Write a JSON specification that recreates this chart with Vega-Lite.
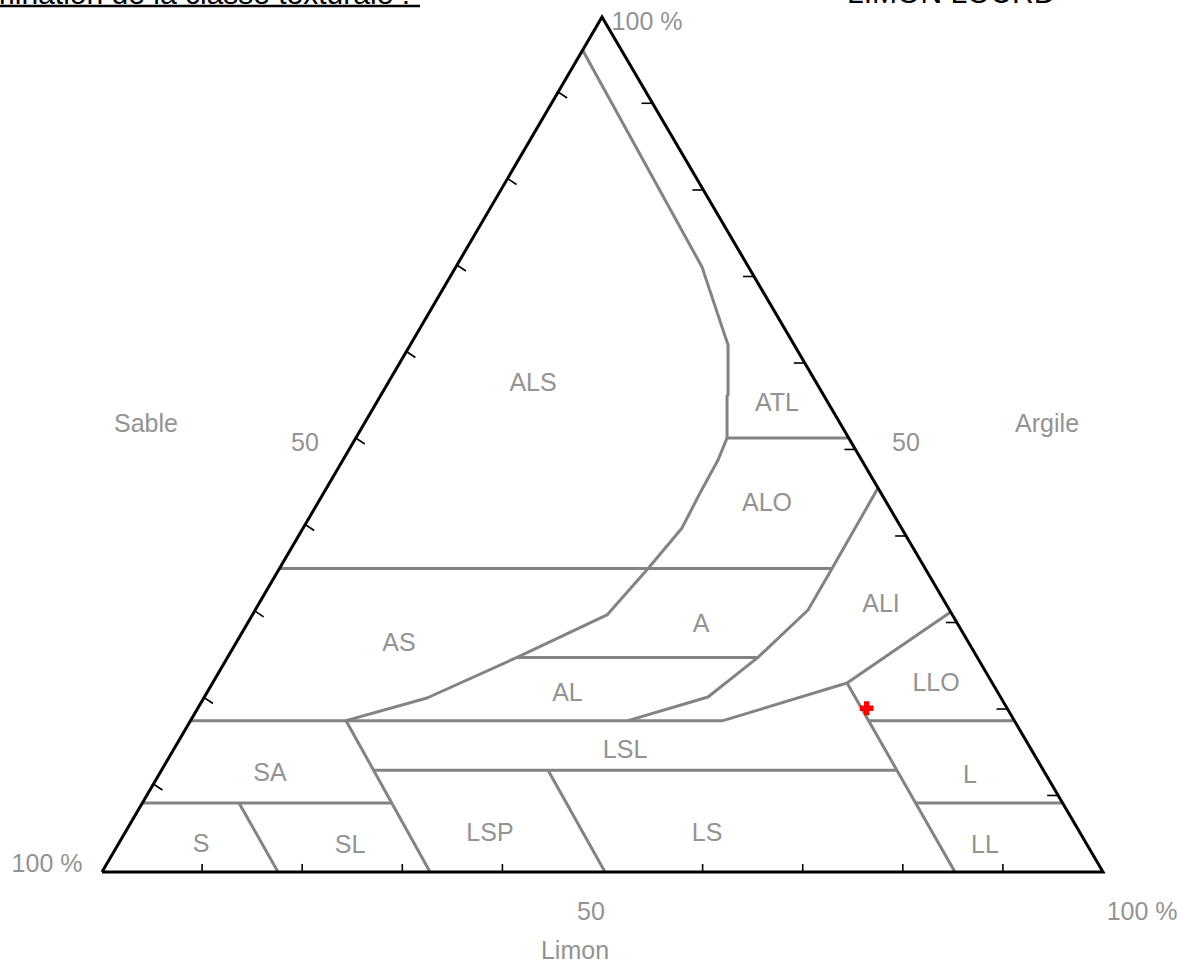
{
  "$schema": "https://vega.github.io/schema/vega-lite/v6.json",
  "width": 1178,
  "height": 965,
  "autosize": {"type": "none"},
  "padding": 0,
  "background": "white",
  "config": {"view": {"stroke": null}},
  "datasets": {
    "lines": [
      {"seg": "c1", "o": 1, "pos": 47.95, "argile": 96.26},
      {"seg": "c1", "o": 2, "pos": 59.94, "argile": 70.76},
      {"seg": "c1", "o": 3, "pos": 62.54, "argile": 61.64},
      {"seg": "c1", "o": 4, "pos": 62.54, "argile": 55.79},
      {"seg": "c1", "o": 5, "pos": 62.44, "argile": 55.67},
      {"seg": "c1", "o": 6, "pos": 62.44, "argile": 50.76},
      {"seg": "c1", "o": 7, "pos": 61.54, "argile": 48.19},
      {"seg": "c1", "o": 8, "pos": 59.74, "argile": 44.33},
      {"seg": "c1", "o": 9, "pos": 57.94, "argile": 40.23},
      {"seg": "c1", "o": 10, "pos": 54.55, "argile": 35.5},
      {"seg": "c1", "o": 11, "pos": 50.45, "argile": 30.06},
      {"seg": "c1", "o": 12, "pos": 41.46, "argile": 25.1},
      {"seg": "c1", "o": 13, "pos": 32.47, "argile": 20.35},
      {"seg": "c1", "o": 14, "pos": 24.38, "argile": 17.7},
      {"seg": "h50", "o": 1, "pos": 62.44, "argile": 50.76},
      {"seg": "h50", "o": 2, "pos": 74.6, "argile": 50.76},
      {"seg": "h35", "o": 1, "pos": 17.72, "argile": 35.5},
      {"seg": "h35", "o": 2, "pos": 72.93, "argile": 35.5},
      {"seg": "h25", "o": 1, "pos": 41.46, "argile": 25.1},
      {"seg": "h25", "o": 2, "pos": 65.53, "argile": 25.1},
      {"seg": "c2", "o": 1, "pos": 77.52, "argile": 44.91},
      {"seg": "c2", "o": 2, "pos": 72.93, "argile": 35.5},
      {"seg": "c2", "o": 3, "pos": 70.53, "argile": 30.64},
      {"seg": "c2", "o": 4, "pos": 65.53, "argile": 25.1},
      {"seg": "c2", "o": 5, "pos": 60.54, "argile": 20.47},
      {"seg": "c2", "o": 6, "pos": 52.55, "argile": 17.7},
      {"seg": "h17L", "o": 1, "pos": 8.84, "argile": 17.7},
      {"seg": "h17L", "o": 2, "pos": 62.04, "argile": 17.7},
      {"seg": "c3", "o": 1, "pos": 62.04, "argile": 17.7},
      {"seg": "c3", "o": 2, "pos": 74.43, "argile": 22.11},
      {"seg": "c3", "o": 3, "pos": 84.78, "argile": 30.41},
      {"seg": "c4", "o": 1, "pos": 74.43, "argile": 22.11},
      {"seg": "c4", "o": 2, "pos": 85.21, "argile": 0},
      {"seg": "h17R", "o": 1, "pos": 76.58, "argile": 17.7},
      {"seg": "h17R", "o": 2, "pos": 91.14, "argile": 17.7},
      {"seg": "h12", "o": 1, "pos": 27.11, "argile": 11.9},
      {"seg": "h12", "o": 2, "pos": 79.41, "argile": 11.9},
      {"seg": "h8L", "o": 1, "pos": 4.03, "argile": 8.07},
      {"seg": "h8L", "o": 2, "pos": 28.94, "argile": 8.07},
      {"seg": "h8R", "o": 1, "pos": 81.28, "argile": 8.07},
      {"seg": "h8R", "o": 2, "pos": 95.96, "argile": 8.07},
      {"seg": "L14", "o": 1, "pos": 24.38, "argile": 17.7},
      {"seg": "L14", "o": 2, "pos": 32.77, "argile": 0},
      {"seg": "L15", "o": 1, "pos": 13.69, "argile": 8.07},
      {"seg": "L15", "o": 2, "pos": 17.58, "argile": 0},
      {"seg": "L16", "o": 1, "pos": 44.56, "argile": 11.9},
      {"seg": "L16", "o": 2, "pos": 50.25, "argile": 0}
    ],
    "frame": [
      {"o": 1, "pos": 0, "argile": 0},
      {"o": 2, "pos": 100, "argile": 0},
      {"o": 3, "pos": 49.95, "argile": 100},
      {"o": 4, "pos": 0, "argile": 0}
    ],
    "ticks": [
      {"pos": 10, "argile": 0, "pos2": 10, "argile2": 0.94},
      {"pos": 20, "argile": 0, "pos2": 20, "argile2": 0.94},
      {"pos": 30, "argile": 0, "pos2": 30, "argile2": 0.94},
      {"pos": 40, "argile": 0, "pos2": 40, "argile2": 0.94},
      {"pos": 60, "argile": 0, "pos2": 60, "argile2": 0.94},
      {"pos": 70, "argile": 0, "pos2": 70, "argile2": 0.94},
      {"pos": 80, "argile": 0, "pos2": 80, "argile2": 0.94},
      {"pos": 90, "argile": 0, "pos2": 90, "argile2": 0.94},
      {"pos": 55.0, "argile": 89.91, "pos2": 53.9, "argile2": 89.91},
      {"pos": 60.07, "argile": 79.77, "pos2": 58.97, "argile2": 79.77},
      {"pos": 65.14, "argile": 69.65, "pos2": 64.04, "argile2": 69.65},
      {"pos": 70.21, "argile": 59.53, "pos2": 69.11, "argile2": 59.53},
      {"pos": 75.27, "argile": 49.42, "pos2": 74.17, "argile2": 49.42},
      {"pos": 80.33, "argile": 39.3, "pos2": 79.23, "argile2": 39.3},
      {"pos": 85.4, "argile": 29.18, "pos2": 84.3, "argile2": 29.18},
      {"pos": 90.46, "argile": 19.06, "pos2": 89.36, "argile2": 19.06},
      {"pos": 95.52, "argile": 8.95, "pos2": 94.42, "argile2": 8.95},
      {"pos": 45.57, "argile": 91.23, "pos2": 46.47, "argile2": 90.53},
      {"pos": 40.51, "argile": 81.11, "pos2": 41.41, "argile2": 80.41},
      {"pos": 35.46, "argile": 70.99, "pos2": 36.36, "argile2": 70.29},
      {"pos": 30.41, "argile": 60.88, "pos2": 31.31, "argile2": 60.18},
      {"pos": 25.35, "argile": 50.76, "pos2": 26.25, "argile2": 50.06},
      {"pos": 20.3, "argile": 40.64, "pos2": 21.2, "argile2": 39.94},
      {"pos": 15.25, "argile": 30.53, "pos2": 16.15, "argile2": 29.83},
      {"pos": 10.19, "argile": 20.41, "pos2": 11.09, "argile2": 19.71},
      {"pos": 5.14, "argile": 10.29, "pos2": 6.04, "argile2": 9.59}
    ],
    "labels": [
      {"label": "ALS", "pos": 43.06, "argile": 57.19},
      {"label": "ATL", "pos": 67.43, "argile": 54.85},
      {"label": "ALO", "pos": 66.43, "argile": 43.1},
      {"label": "A", "pos": 59.84, "argile": 29.0},
      {"label": "ALI", "pos": 77.82, "argile": 31.35},
      {"label": "AS", "pos": 29.67, "argile": 26.78},
      {"label": "AL", "pos": 46.5, "argile": 20.94},
      {"label": "LLO", "pos": 83.32, "argile": 22.11},
      {"label": "LSL", "pos": 52.25, "argile": 14.27},
      {"label": "SA", "pos": 16.78, "argile": 11.58},
      {"label": "L", "pos": 86.71, "argile": 11.35},
      {"label": "S", "pos": 9.89, "argile": 3.27},
      {"label": "SL", "pos": 24.78, "argile": 3.16},
      {"label": "LSP", "pos": 38.76, "argile": 4.56},
      {"label": "LS", "pos": 60.44, "argile": 4.56},
      {"label": "LL", "pos": 88.21, "argile": 3.16},
      {"label": "Sable", "pos": 4.39, "argile": 52.4},
      {"label": "50", "pos": 20.28, "argile": 50.18},
      {"label": "Argile", "pos": 94.41, "argile": 52.4},
      {"label": "50", "pos": 80.32, "argile": 50.18},
      {"label": "100 %", "pos": 54.45, "argile": 99.42},
      {"label": "100 %", "pos": -5.49, "argile": 0.94},
      {"label": "50", "pos": 48.85, "argile": -4.68},
      {"label": "100 %", "pos": 103.9, "argile": -4.68},
      {"label": "Limon", "pos": 47.25, "argile": -9.24}
    ],
    "titleLeft": [
      {"label": "Détermination de la classe texturale :", "pos": 30.77, "argile": 101.52}
    ],
    "titleRight": [
      {"label": "LIMON LOURD", "pos": 74.43, "argile": 101.64}
    ],
    "underline": [
      {"pos": -10.19, "pos2": 31.77, "argile": 101.29}
    ],
    "sample": [
      {"pos": 76.39, "argile": 19.15}
    ]
  },
  "encoding": {
    "x": {"field": "pos", "type": "quantitative", "scale": {"domain": [-10.19, 107.49], "nice": false, "zero": false}, "axis": null},
    "y": {"field": "argile", "type": "quantitative", "scale": {"domain": [-10.88, 101.99], "nice": false, "zero": false}, "axis": null}
  },
  "layer": [
    {
      "data": {"name": "lines"},
      "mark": {"type": "line", "stroke": "#838383", "strokeWidth": 3, "strokeJoin": "round"},
      "encoding": {
        "detail": {"field": "seg", "type": "nominal"},
        "order": {"field": "o", "type": "quantitative"}
      }
    },
    {
      "data": {"name": "frame"},
      "mark": {"type": "line", "stroke": "#000000", "strokeWidth": 3, "strokeJoin": "miter"},
      "encoding": {
        "order": {"field": "o", "type": "quantitative"}
      }
    },
    {
      "data": {"name": "ticks"},
      "mark": {"type": "rule", "stroke": "#000000", "strokeWidth": 1.6},
      "encoding": {
        "x2": {"field": "pos2"},
        "y2": {"field": "argile2"}
      }
    },
    {
      "data": {"name": "labels"},
      "mark": {"type": "text", "font": "Liberation Sans", "fontSize": 25, "color": "#939393", "align": "center", "baseline": "middle"},
      "encoding": {
        "text": {"field": "label", "type": "nominal"}
      }
    },
    {
      "data": {"name": "titleLeft"},
      "mark": {"type": "text", "font": "Liberation Sans", "fontSize": 30, "color": "#000000", "align": "right", "baseline": "alphabetic", "clip": true},
      "encoding": {
        "text": {"field": "label", "type": "nominal"}
      }
    },
    {
      "data": {"name": "titleRight"},
      "mark": {"type": "text", "font": "Liberation Sans", "fontSize": 30, "color": "#000000", "align": "left", "baseline": "alphabetic", "clip": true},
      "encoding": {
        "text": {"field": "label", "type": "nominal"}
      }
    },
    {
      "data": {"name": "underline"},
      "mark": {"type": "rule", "stroke": "#000000", "strokeWidth": 2.5},
      "encoding": {
        "x2": {"field": "pos2"}
      }
    },
    {
      "data": {"name": "sample"},
      "mark": {"type": "point", "shape": "cross", "filled": true, "color": "#ff0000", "size": 190, "opacity": 1, "strokeWidth": 0}
    }
  ]
}
